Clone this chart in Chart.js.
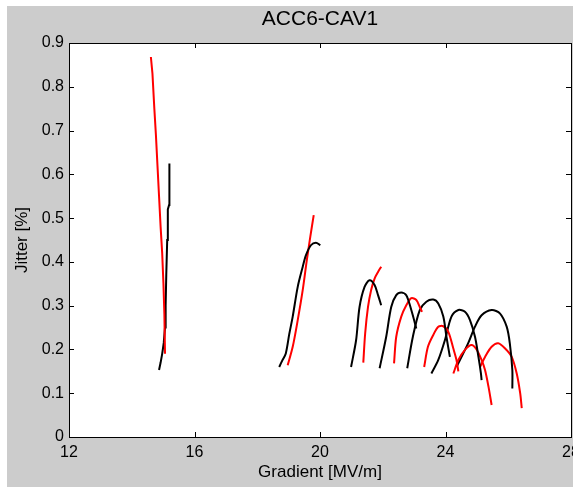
<!DOCTYPE html>
<html>
<head>
<meta charset="utf-8">
<script src="https://cdn.jsdelivr.net/npm/chart.js@4/dist/chart.umd.min.js"></script>
<style>
  html, body { margin: 0; padding: 0; overflow: hidden; background: #fff; }
  #wrap { width: 600px; height: 487px; }
</style>
</head>
<body>
<div id="wrap"><canvas id="jitterChart" width="600" height="487"></canvas></div>
<script>
// tick labels
const gradientTicks = [12, 16, 20, 24, 28];
const jitterTicks = [0, 0.1, 0.2, 0.3, 0.4, 0.5, 0.6, 0.7, 0.8, 0.9];

// black runs (gradient MV/m, jitter %)
const gradBlack1 = [14.87, 14.92, 14.97, 15.02, 15.06, 15.08, 15.10, 15.13, 15.15, 15.19, 15.20];
const jitBlack1  = [0.153, 0.17, 0.19, 0.215, 0.25, 0.30, 0.37, 0.45, 0.52, 0.53, 0.625];
const gradBlack2 = [18.70, 18.80, 18.91, 19.02, 19.13, 19.29, 19.45, 19.55, 19.71, 19.87, 20.01];
const jitBlack2  = [0.160, 0.175, 0.191, 0.235, 0.275, 0.343, 0.389, 0.415, 0.438, 0.444, 0.438];
const gradBlack3 = [20.99, 21.15, 21.26, 21.42, 21.58, 21.74, 21.85, 21.95];
const jitBlack3  = [0.160, 0.221, 0.297, 0.343, 0.358, 0.347, 0.324, 0.301];
const gradBlack4 = [21.90, 22.11, 22.27, 22.43, 22.59, 22.75, 22.91, 23.07];
const jitBlack4  = [0.157, 0.229, 0.297, 0.324, 0.330, 0.324, 0.290, 0.248];
const gradBlack5 = [22.78, 22.96, 23.18, 23.39, 23.61, 23.77, 23.93, 24.03, 24.14];
const jitBlack5  = [0.157, 0.229, 0.290, 0.309, 0.314, 0.305, 0.275, 0.229, 0.183];
const gradBlack6 = [23.55, 23.77, 23.98, 24.19, 24.41, 24.62, 24.78, 24.94, 25.05, 25.13, 25.15];
const jitBlack6  = [0.145, 0.176, 0.221, 0.275, 0.290, 0.286, 0.267, 0.229, 0.183, 0.145, 0.130];
const gradBlack7 = [24.35, 24.72, 24.94, 25.15, 25.47, 25.74, 25.95, 26.05, 26.13, 26.13];
const jitBlack7  = [0.160, 0.214, 0.252, 0.278, 0.290, 0.282, 0.252, 0.214, 0.153, 0.111];

// red runs
const gradRed1 = [14.61, 14.66, 14.72, 14.77, 14.82, 14.87, 14.92, 14.97, 15.01, 15.04, 15.06];
const jitRed1  = [0.868, 0.83, 0.75, 0.69, 0.62, 0.55, 0.48, 0.42, 0.35, 0.28, 0.19];
const gradRed2 = [18.97, 19.13, 19.29, 19.45, 19.58, 19.69, 19.80];
const jitRed2  = [0.164, 0.206, 0.267, 0.336, 0.404, 0.457, 0.507];
const gradRed3 = [21.38, 21.44, 21.53, 21.63, 21.74, 21.85, 21.95];
const jitRed3  = [0.170, 0.237, 0.297, 0.336, 0.362, 0.377, 0.389];
const gradRed4 = [22.36, 22.43, 22.59, 22.75, 22.91, 23.07, 23.18, 23.25];
const jitRed4  = [0.168, 0.229, 0.275, 0.301, 0.317, 0.313, 0.297, 0.286];
const gradRed5 = [23.32, 23.44, 23.61, 23.77, 23.93, 24.09, 24.25, 24.35, 24.41];
const jitRed5  = [0.160, 0.206, 0.233, 0.252, 0.253, 0.240, 0.202, 0.176, 0.150];
const gradRed6 = [24.25, 24.41, 24.62, 24.83, 24.99, 25.15, 25.26, 25.37, 25.47];
const jitRed6  = [0.145, 0.176, 0.199, 0.210, 0.200, 0.176, 0.153, 0.115, 0.073];
const gradRed7 = [25.10, 25.26, 25.47, 25.68, 25.90, 26.11, 26.27, 26.38, 26.43];
const jitRed7  = [0.160, 0.183, 0.206, 0.214, 0.202, 0.183, 0.145, 0.100, 0.066];

// [colour, x values, y values, smoothing]
const runs = [
  ["#ff0000", gradRed1, jitRed1, 0], ["#000000", gradBlack1, jitBlack1, 0],
  ["#000000", gradBlack2, jitBlack2, 0.3], ["#ff0000", gradRed2, jitRed2, 0.3],
  ["#000000", gradBlack3, jitBlack3, 0.3], ["#ff0000", gradRed3, jitRed3, 0.3],
  ["#000000", gradBlack4, jitBlack4, 0.3], ["#ff0000", gradRed4, jitRed4, 0.3],
  ["#000000", gradBlack5, jitBlack5, 0.3], ["#ff0000", gradRed5, jitRed5, 0.3],
  ["#000000", gradBlack6, jitBlack6, 0.3], ["#ff0000", gradRed6, jitRed6, 0.3],
  ["#000000", gradBlack7, jitBlack7, 0.3], ["#ff0000", gradRed7, jitRed7, 0.3],
];

const datasets = runs.map(([color, xs, ys, tension]) => ({
  data: xs.map((x, i) => ({ x: x, y: ys[i] })),
  borderColor: color,
  borderWidth: 2,
  pointRadius: 0,
  showLine: true,
  tension: tension,
}));

const FONT = "'Liberation Sans', Arial, sans-serif";

// figure background + white axes box
const backdrop = {
  id: "backdrop",
  beforeDraw(chart) {
    const { ctx, chartArea: a } = chart;
    ctx.save();
    ctx.fillStyle = "#ffffff";
    ctx.fillRect(0, 0, chart.width, chart.height);
    ctx.fillStyle = "#cccccc";
    ctx.fillRect(7, 6, chart.width, chart.height);
    ctx.fillStyle = "#ffffff";
    ctx.fillRect(a.left, a.top, a.right - a.left, a.bottom - a.top);
    ctx.restore();
  },
};

// matlab style box with inward ticks on all four sides
const matlabBox = {
  id: "matlabBox",
  afterDraw(chart) {
    const { ctx, chartArea: a } = chart;
    const xs = chart.scales.x, ys = chart.scales.y;
    const len = 5;
    ctx.save();
    ctx.strokeStyle = "#000000";
    ctx.lineWidth = 1;
    ctx.beginPath();
    xs.ticks.forEach(t => {
      const px = Math.round(xs.getPixelForValue(t.value)) + 0.5;
      ctx.moveTo(px, a.bottom); ctx.lineTo(px, a.bottom - len);
      ctx.moveTo(px, a.top); ctx.lineTo(px, a.top + len);
    });
    ys.ticks.forEach(t => {
      const py = Math.round(ys.getPixelForValue(t.value)) + 0.5;
      ctx.moveTo(a.left, py); ctx.lineTo(a.left + len, py);
      ctx.moveTo(a.right, py); ctx.lineTo(a.right - len, py);
    });
    ctx.stroke();
    ctx.strokeRect(Math.round(a.left) + 0.5, Math.round(a.top) + 0.5,
      Math.round(a.right - a.left), Math.round(a.bottom - a.top));
    ctx.restore();
  },
};

new Chart(document.getElementById("jitterChart"), {
  type: "scatter",
  data: { datasets: datasets },
  options: {
    responsive: false,
    animation: false,
    layout: { padding: { left: 0, right: 29, top: 0, bottom: 0 } },
    plugins: {
      legend: { display: false },
      tooltip: { enabled: false },
      title: {
        display: true,
        text: "ACC6-CAV1",
        color: "#000",
        fullSize: false,
        font: { family: FONT, size: 21, weight: "normal" },
        padding: { top: 7, bottom: 10.8 },
      },
    },
    scales: {
      x: {
        type: "linear",
        min: gradientTicks[0],
        max: gradientTicks[gradientTicks.length - 1],
        afterBuildTicks: s => { s.ticks = gradientTicks.map(v => ({ value: v })); },
        afterFit: s => { s.height = 50; },
        grid: { display: false, drawTicks: false },
        border: { display: false },
        ticks: { color: "#000", padding: 6, maxRotation: 0, autoSkip: false,
                 font: { family: FONT, size: 16 } },
        title: { display: true, text: "Gradient [MV/m]", color: "#000",
                 font: { family: FONT, size: 17 }, padding: { top: 0, bottom: 4 } },
      },
      y: {
        type: "linear",
        min: jitterTicks[0],
        max: jitterTicks[jitterTicks.length - 1],
        afterBuildTicks: s => { s.ticks = jitterTicks.map(v => ({ value: v })); },
        afterFit: s => { s.width = 69; },
        grid: { display: false, drawTicks: false },
        border: { display: false },
        ticks: { color: "#000", padding: 5, autoSkip: false,
                 callback: v => String(+v.toFixed(1)),
                 font: { family: FONT, size: 16 } },
        title: { display: true, text: "Jitter [%]", color: "#000",
                 font: { family: FONT, size: 17 }, padding: { top: 12, bottom: 0 } },
      },
    },
  },
  plugins: [backdrop, matlabBox],
});
</script>
</body>
</html>
